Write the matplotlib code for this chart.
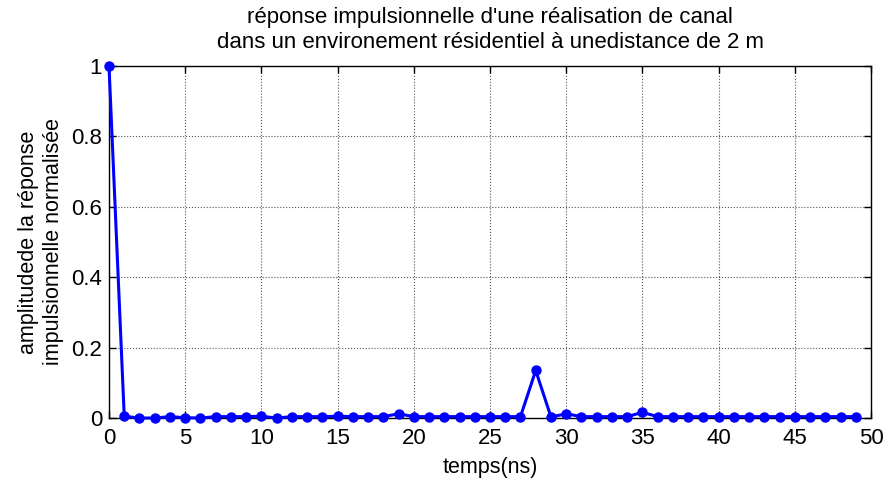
import matplotlib.pyplot as plt

plt.rcParams['font.family'] = ['Liberation Sans', 'DejaVu Sans']

temps = list(range(50))
amplitude = [1.0, 0.005, 0.0, 0.0, 0.004, 0.001, 0.0, 0.004, 0.004, 0.004,
             0.005, 0.0, 0.004, 0.004, 0.004, 0.005, 0.004, 0.004, 0.004, 0.012,
             0.004, 0.004, 0.004, 0.004, 0.004, 0.004, 0.004, 0.004, 0.135, 0.003,
             0.012, 0.004, 0.004, 0.004, 0.004, 0.016, 0.004, 0.004, 0.004, 0.004,
             0.004, 0.004, 0.004, 0.004, 0.004, 0.004, 0.004, 0.004, 0.004, 0.004]

fig = plt.figure(figsize=(8.84, 4.79), dpi=100)
ax = fig.add_axes([0.1233, 0.1273, 0.862, 0.735])

ax.plot(temps, amplitude, color='#0000ff', linewidth=2.2, marker='o',
        markersize=6.5, clip_on=False, zorder=3)

ax.set_xlim(0, 50)
ax.set_ylim(0, 1)
ax.set_xticks(range(0, 51, 5))
ax.set_yticks([0, 0.2, 0.4, 0.6, 0.8, 1])
ax.set_yticklabels(['0', '0.2', '0.4', '0.6', '0.8', '1'])
ax.tick_params(direction='in', top=True, right=True, labelsize=16, length=5, width=1)
ax.tick_params(axis='x', pad=7)
ax.tick_params(axis='y', pad=5)
ax.grid(True, linestyle=':', color='#555555', linewidth=0.8)
for s in ax.spines.values():
    s.set_linewidth(1.0)

ax.set_title("réponse impulsionnelle d'une réalisation de canal\n"
             "dans un environement résidentiel à unedistance de 2 m",
             fontsize=16, pad=13, linespacing=1.25)
ax.set_xlabel("temps(ns)", fontsize=15.5, labelpad=6)
ax.set_ylabel("amplitudede la réponse\nimpulsionnelle normalisée", fontsize=15.5,
              labelpad=5, linespacing=1.25)

fig.savefig('out.png', dpi=100)
